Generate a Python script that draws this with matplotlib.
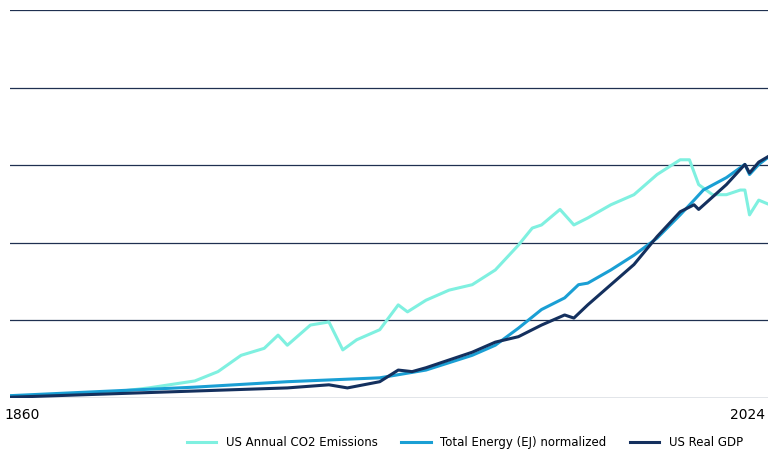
import matplotlib.pyplot as plt

co2_years = [1860, 1870, 1880, 1890, 1900, 1905, 1910, 1915, 1918, 1920, 1925, 1929, 1932, 1935,
             1940, 1944, 1946, 1950, 1955, 1960, 1965, 1970, 1973, 1975, 1979, 1982, 1985, 1990,
             1995, 2000, 2005, 2007, 2009, 2012, 2015, 2018, 2019, 2020, 2022, 2024]
co2 = [2.6, 4, 6, 13, 22, 34, 55, 64, 81, 68, 94, 98, 62, 75, 88, 120, 111, 126, 139, 146, 165,
       197, 219, 223, 243, 223, 232, 249, 262, 288, 307, 307, 275, 262, 262, 268, 268, 236, 255, 250]

en_years = [1860, 1900, 1920, 1940, 1950, 1960, 1965, 1970, 1975, 1980, 1983, 1985, 1990, 1995,
            2000, 2005, 2008, 2010, 2015, 2019, 2020, 2022, 2024]
energy = [3, 14, 21, 26, 36, 55, 68, 90, 114, 129, 146, 148, 165, 184, 206, 236, 255, 268, 284,
          301, 288, 301, 310]

gdp_years = [1860, 1900, 1920, 1929, 1933, 1940, 1944, 1947, 1950, 1960, 1965, 1970, 1975, 1980,
             1982, 1985, 1990, 1995, 2000, 2005, 2008, 2009, 2015, 2019, 2020, 2022, 2024]
gdp = [1, 9, 13, 17, 13, 21, 36, 34, 39, 59, 72, 79, 94, 107, 103, 120, 146, 172, 208, 240, 249,
       243, 275, 301, 290, 304, 311]

fig = plt.figure(figsize=(7.68, 4.53), dpi=100)
ax = fig.add_axes([10/768, 55/453, 758/768, 388/453])
ax.plot(co2_years, co2, color='#7ff0e0', lw=2.2, label='US Annual CO2 Emissions')
ax.plot(en_years, energy, color='#1a9fd4', lw=2.2, label='Total Energy (EJ) normalized')
ax.plot(gdp_years, gdp, color='#14305e', lw=2.2, label='US Real GDP')
ax.set_xlim(1860, 2024)
ax.set_ylim(0, 500)
ax.set_yticks([0, 100, 200, 300, 400, 500])
ax.yaxis.grid(True, color='#1f3050', lw=0.9)
ax.tick_params(left=False, labelleft=False, bottom=False)
ax.set_xticks([1860, 2024])
labels = ax.set_xticklabels(['1860', '2024'], fontsize=10)
labels[0].set_ha('center')
labels[0].set_x(1860)
labels[1].set_ha('right')
for s in ax.spines.values():
    s.set_visible(False)
ax.legend(loc='upper center', bbox_to_anchor=(0.6, -0.07), ncol=3, frameon=False, fontsize=8.5,
          handlelength=2.5)
fig.canvas.draw()
# keep first label inside the figure
import matplotlib.transforms as mt
labels[0].set_transform(labels[0].get_transform() + mt.ScaledTranslation(12/100, 0, fig.dpi_scale_trans))
labels[1].set_transform(labels[1].get_transform() + mt.ScaledTranslation(-3/100, 0, fig.dpi_scale_trans))
fig.savefig('out.png')
